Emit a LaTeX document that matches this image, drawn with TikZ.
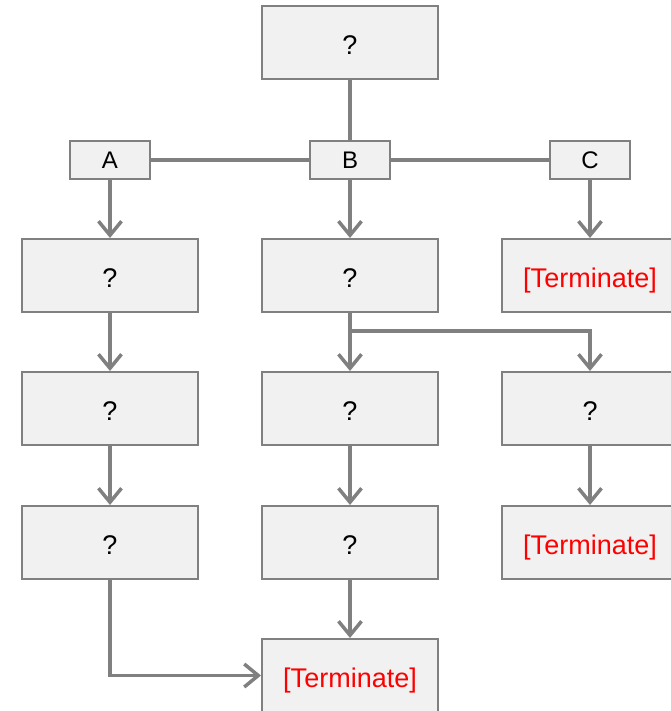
\documentclass[tikz,border=0pt]{standalone}
\usepackage{fontspec}
\setmainfont{Liberation Sans}
\usetikzlibrary{arrows.meta}
\definecolor{edgegray}{HTML}{808080}
\definecolor{boxfill}{HTML}{F1F1F1}
\definecolor{termred}{HTML}{FF0000}
\begin{document}
\begin{tikzpicture}[x=1pt,y=-1pt,
  box/.style={draw=edgegray,fill=boxfill,line width=2pt,minimum width=176pt,minimum height=73pt,inner sep=0pt,text height=24pt,text depth=0pt,font=\fontsize{27}{32}\selectfont},
  lbl/.style={draw=edgegray,fill=boxfill,line width=2pt,minimum width=80pt,minimum height=38pt,inner sep=0pt,text height=17.3pt,text depth=0pt,font=\fontsize{24}{28}\selectfont},
  term/.style={text=termred},
  conn/.style={draw=edgegray,line width=3.5pt},
  arr/.style={conn,-{Straight Barb[length=14pt,width=23pt,line width=3.5pt]}}
]
\useasboundingbox (0,0) rectangle (670,711);
\node[box] (top) at (350,43) {?};
\node[lbl] (A) at (110,160) {A};
\node[lbl] (B) at (350,160) {B};
\node[lbl] (C) at (590,160) {C};
\node[box] (a2) at (110,275.5) {?};
\node[box] (b2) at (350,275.5) {?};
\node[box,term] (c2) at (590,275.5) {[Terminate]};
\node[box] (a3) at (110,408.5) {?};
\node[box] (b3) at (350,408.5) {?};
\node[box] (c3) at (590,408.5) {?};
\node[box] (a4) at (110,542.5) {?};
\node[box] (b4) at (350,542.5) {?};
\node[box,term] (c4) at (590,542.5) {[Terminate]};
\node[box,term] (bot) at (350,675.5) {[Terminate]};
\coordinate (split) at (350,331);
\draw[conn] (top.south) -- (B.north);
\draw[conn] (A.east) -- (B.west);
\draw[conn] (B.east) -- (C.west);
\draw[arr] (A.south) -- (a2.north);
\draw[arr] (B.south) -- (b2.north);
\draw[arr] (C.south) -- (c2.north);
\draw[arr] (a2.south) -- (a3.north);
\draw[arr] (b2.south) -- (b3.north);
\draw[arr] (split) -| (c3.north);
\draw[arr] (c3.south) -- (c4.north);
\draw[arr] (a3.south) -- (a4.north);
\draw[arr] (b3.south) -- (b4.north);
\draw[arr] (b4.south) -- (bot.north);
\draw[arr] (a4.south) |- (bot.west);
\end{tikzpicture}
\end{document}
